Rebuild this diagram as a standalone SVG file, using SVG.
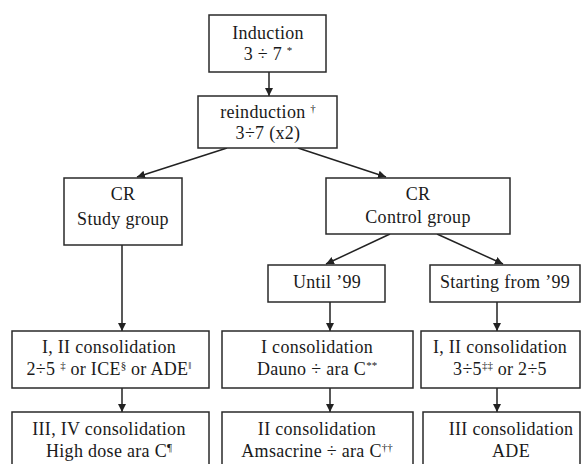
<svg xmlns="http://www.w3.org/2000/svg" width="581" height="464" viewBox="0 0 581 464">
<style>
.box{fill:#fff;stroke:#2a2a2a;stroke-width:1.5}
.t{font-family:"Liberation Serif","Times New Roman",serif;font-size:18px;letter-spacing:0.3px;fill:#1a1a1a;text-anchor:middle}
.s{font-size:11px;letter-spacing:0}
.c{stroke:#222;stroke-width:1.5;fill:none;marker-end:url(#ah)}
</style>
<defs>
<marker id="ah" viewBox="0 0 10 10" refX="10" refY="5" markerWidth="8" markerHeight="8" markerUnits="userSpaceOnUse" orient="auto">
<path d="M0,0 L10,5 L0,10 z" fill="#222"/>
</marker>
</defs>
<rect width="581" height="464" fill="#fff"/>
<g id="connectors">
<line class="c" x1="269" y1="72" x2="269" y2="96"/>
<line class="c" x1="227" y1="148" x2="137" y2="177"/>
<line class="c" x1="298" y1="148" x2="386" y2="177"/>
<line class="c" x1="390" y1="234" x2="326" y2="264"/>
<line class="c" x1="437" y1="234" x2="503" y2="264"/>
<line class="c" x1="122" y1="245" x2="122" y2="331"/>
<line class="c" x1="122" y1="388" x2="122" y2="412"/>
<line class="c" x1="330" y1="302" x2="330" y2="331"/>
<line class="c" x1="330" y1="388" x2="330" y2="412"/>
<line class="c" x1="497" y1="302" x2="497" y2="331"/>
<line class="c" x1="497" y1="388" x2="497" y2="412"/>
</g>
<g id="induction">
<rect class="box" x="209" y="15" width="117" height="57"/>
<text class="t" x="268" y="39">Induction</text>
<text class="t" x="268" y="60">3 ÷ 7 <tspan class="s" dy="-6">*</tspan></text>
</g>
<g id="reinduction">
<rect class="box" x="198" y="96" width="139" height="52"/>
<text class="t" x="268" y="118">reinduction <tspan class="s" dy="-6">†</tspan></text>
<text class="t" x="268" y="139">3÷7 (x2)</text>
</g>
<g id="study">
<rect class="box" x="64" y="178" width="118" height="67"/>
<text class="t" x="123" y="200">CR</text>
<text class="t" x="123" y="225">Study group</text>
</g>
<g id="control">
<rect class="box" x="326" y="178" width="184" height="56"/>
<text class="t" x="418" y="200">CR</text>
<text class="t" x="418" y="223">Control group</text>
</g>
<g id="until99">
<rect class="box" x="268" y="265" width="117" height="37"/>
<text class="t" x="327" y="288">Until ’99</text>
</g>
<g id="from99">
<rect class="box" x="430" y="265" width="150" height="37"/>
<text class="t" x="505" y="288">Starting from ’99</text>
</g>
<g id="study-cons1">
<rect class="box" x="12" y="331" width="197" height="57"/>
<text class="t" x="109" y="353">I, II consolidation</text>
<text class="t" x="109" y="375">2÷5 <tspan class="s" dy="-6">‡</tspan><tspan dy="6"> or ICE</tspan><tspan class="s" dy="-6">§</tspan><tspan dy="6"> or ADE</tspan><tspan class="s" dy="-6">‖</tspan></text>
</g>
<g id="study-cons2">
<rect class="box" x="12" y="412" width="197" height="56"/>
<text class="t" x="109" y="435">III, IV consolidation</text>
<text class="t" x="109" y="457">High dose ara C<tspan class="s" dy="-6">¶</tspan></text>
</g>
<g id="until-cons1">
<rect class="box" x="222" y="331" width="191" height="57"/>
<text class="t" x="317" y="353">I consolidation</text>
<text class="t" x="317" y="375">Dauno ÷ ara C<tspan class="s" dy="-6">**</tspan></text>
</g>
<g id="until-cons2">
<rect class="box" x="222" y="412" width="191" height="56"/>
<text class="t" x="317" y="435">II consolidation</text>
<text class="t" x="317" y="457">Amsacrine ÷ ara C<tspan class="s" dy="-6">††</tspan></text>
</g>
<g id="from-cons1">
<rect class="box" x="421" y="331" width="159" height="57"/>
<text class="t" x="500" y="353">I, II consolidation</text>
<text class="t" x="500" y="375">3÷5<tspan class="s" dy="-6">‡‡</tspan><tspan dy="6"> or 2÷5</tspan></text>
</g>
<g id="from-cons2">
<rect class="box" x="423" y="412" width="157" height="56"/>
<text class="t" x="511" y="435">III consolidation</text>
<text class="t" x="511" y="457">ADE</text>
</g>
</svg>
